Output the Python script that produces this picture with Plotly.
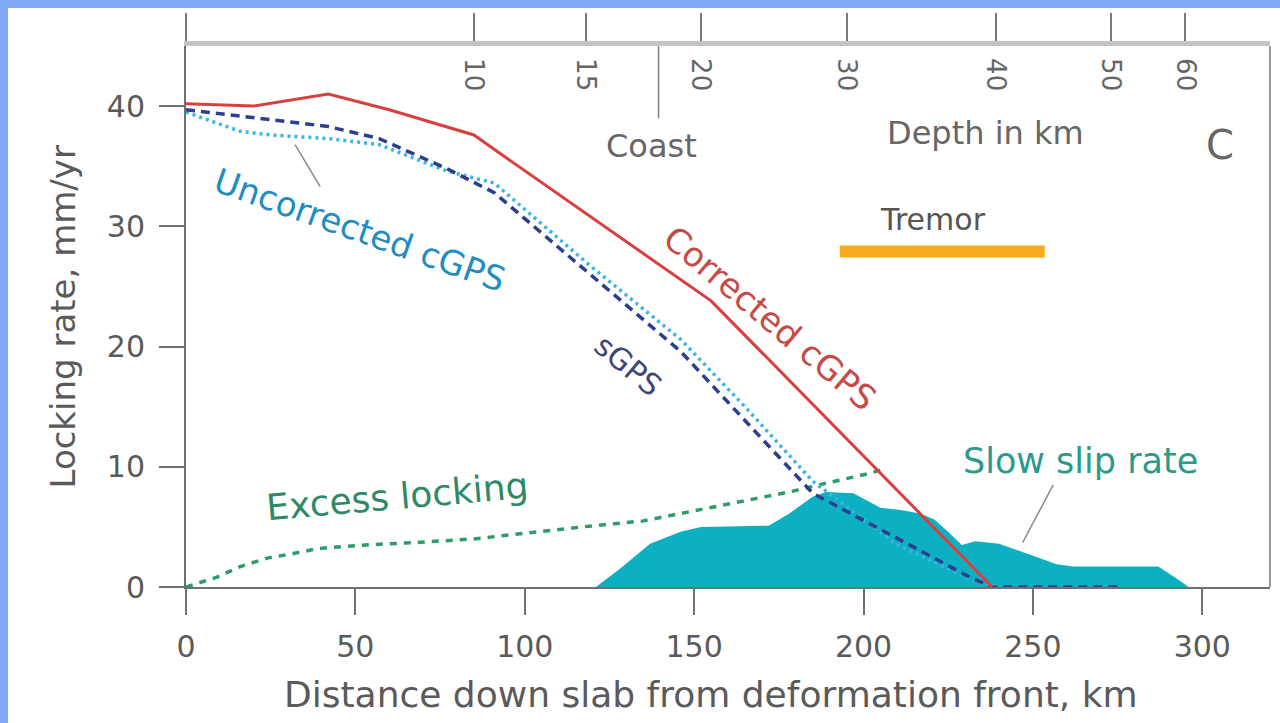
import plotly.graph_objects as go

# ---------------- data ----------------
x_ticks = [0, 50, 100, 150, 200, 250, 300]
y_ticks = [0, 10, 20, 30, 40]

# top axis: depth (km) placed at distance down slab (km)
depth_tick_km = [0, 85, 118, 152, 195, 239, 273, 295]
depth_tick_labels = ["", "10", "15", "20", "30", "40", "50", "60"]

corrected_x = [0, 20, 42, 60, 85, 92, 155, 238]
corrected_y = [40.2, 40.0, 41.0, 39.7, 37.6, 36.2, 23.8, 0.0]

sgps_x = [0, 25, 42, 57, 77, 91, 146, 185, 231.5, 238, 276]
sgps_y = [39.7, 38.9, 38.3, 37.3, 34.8, 32.8, 19.6, 7.8, 0.8, 0.0, 0.0]

uncorr_x = [0, 16, 25, 42, 57, 77, 91, 119, 146, 165, 185, 210, 232, 240]
uncorr_y = [39.5, 37.9, 37.6, 37.3, 36.8, 34.6, 33.6, 26.8, 20.6, 15.0, 8.8, 3.5, 0.6, 0.0]

excess_x = [0, 9, 16, 24, 32, 39, 53, 68, 85, 100, 117, 135, 146, 166, 178, 190, 201, 206]
excess_y = [0.0, 0.8, 1.7, 2.4, 2.8, 3.2, 3.5, 3.7, 4.0, 4.5, 5.0, 5.5, 6.1, 7.2, 7.9, 8.7, 9.4, 9.8]

slow_x = [121, 128, 137, 146, 152, 172, 178, 185, 189, 197, 205, 211, 217, 221, 225, 229,
          233, 240, 248, 257, 262, 287, 292, 296]
slow_y = [0.0, 1.5, 3.6, 4.6, 5.0, 5.1, 6.1, 7.5, 7.9, 7.8, 6.6, 6.4, 6.1, 5.6, 4.6, 3.5,
          3.8, 3.6, 2.8, 1.9, 1.7, 1.7, 0.8, 0.0]

tremor_x = [193, 253.5]
tremor_y = [27.9, 27.9]

coast_km = 139.5
coast_y = [45, 39]

uncorr_leader_x = [32.2, 39.6]
uncorr_leader_y = [36.8, 33.3]
slow_leader_x = [256, 247]
slow_leader_y = [8.5, 3.7]

FONT = "DejaVu Sans"

fig = go.Figure()

fig.add_trace(go.Scatter(x=slow_x, y=slow_y, mode="lines", fill="tozeroy",
                         line=dict(width=0, color="#12b4c3"), fillcolor="#0cb0c0",
                         hoverinfo="skip"))
fig.add_trace(go.Scatter(x=excess_x, y=excess_y, mode="lines",
                         line=dict(color="#2f9a6a", width=3.5, dash="7px,7px")))
fig.add_trace(go.Scatter(x=uncorr_x, y=uncorr_y, mode="lines",
                         line=dict(color="#3ab4e4", width=3.5, dash="3px,4px")))
fig.add_trace(go.Scatter(x=sgps_x, y=sgps_y, mode="lines",
                         line=dict(color="#2c3f8e", width=3.5, dash="9px,6px")))
fig.add_trace(go.Scatter(x=corrected_x, y=corrected_y, mode="lines",
                         line=dict(color="#d8403f", width=3)))
fig.add_trace(go.Scatter(x=tremor_x, y=tremor_y, mode="lines",
                         line=dict(color="#f6aa1c", width=12)))
fig.add_trace(go.Scatter(x=[coast_km, coast_km], y=coast_y, mode="lines",
                         line=dict(color="#808080", width=1.5)))
fig.add_trace(go.Scatter(x=uncorr_leader_x, y=uncorr_leader_y, mode="lines",
                         line=dict(color="#8a8a8a", width=1.5)))
fig.add_trace(go.Scatter(x=slow_leader_x, y=slow_leader_y, mode="lines",
                         line=dict(color="#8a8a8a", width=1.5)))
# anchor trace for the top (depth) axis
fig.add_trace(go.Scatter(x=[0], y=[0], xaxis="x2", mode="markers",
                         marker=dict(opacity=0), hoverinfo="skip"))

axis_col = "#707070"
tick_font = dict(family=FONT, size=30, color="#5a5a5a")

fig.update_layout(
    width=1272, height=715,
    margin=dict(l=178, r=10, t=36, b=136),
    paper_bgcolor="white", plot_bgcolor="white",
    showlegend=False,
    font=dict(family=FONT, color="#5a5a5a"),
    xaxis=dict(range=[0, 320], tickvals=x_ticks, ticks="outside", ticklen=26, tickwidth=2,
               tickcolor=axis_col, showline=True, linecolor=axis_col, linewidth=2,
               showgrid=False, zeroline=False, tickfont=tick_font, ticklabelstandoff=6),
    xaxis2=dict(range=[0, 320], overlaying="x", side="top", tickvals=depth_tick_km,
                ticktext=depth_tick_labels, ticks="outside", ticklen=28, tickwidth=1.5,
                tickcolor="#7a7a7a", showline=True, linecolor="#c4c4c4", linewidth=5,
                showgrid=False, zeroline=False, tickangle=90, ticklabelposition="inside",
                tickfont=dict(family=FONT, size=26, color="#666666")),
    yaxis=dict(range=[0, 45], tickvals=y_ticks, ticks="outside", ticklen=25, tickwidth=2,
               tickcolor=axis_col, showline=True, linecolor=axis_col, linewidth=2,
               showgrid=False, zeroline=False, tickfont=tick_font, ticklabelstandoff=8),
)

# right frame
fig.add_shape(type="line", xref="paper", yref="paper", x0=1, x1=1, y0=0, y1=1,
              line=dict(color="#9a9a9a", width=2))

def ann(text, x, y, size, color, angle=0, xref="x", yref="y"):
    fig.add_annotation(text=text, x=x, y=y, xref=xref, yref=yref, showarrow=False,
                       textangle=angle, xanchor="center", yanchor="middle",
                       font=dict(family=FONT, size=size, color=color))

ann("Uncorrected cGPS", 51.4, 29.7, 34, "#1f8dbf", 19.5)
ann("sGPS", 130.5, 18.4, 30, "#3d4677", 40)
ann("Corrected cGPS", 172.4, 22.4, 34, "#c54b47", 40)
ann("Excess locking", 62.3, 7.5, 36, "#2e8a66", -5)
ann("Slow slip rate", 264, 10.5, 35, "#2a9a8a")
ann("Tremor", 220.5, 30.6, 30, "#555555")
ann("Coast", 137.3, 36.7, 32, "#666666")
ann("Depth in km", 235.9, 37.8, 32, "#666666")
ann("C", 305.3, 36.8, 40, "#666666")
ann("Locking rate, mm/yr", -0.1135, 0.5, 34, "#5a5a5a", -90, "paper", "paper")
ann("Distance down slab from deformation front, km", 0.4843, -0.199, 36, "#5a5a5a", 0,
    "paper", "paper")

fig.write_html(
    "out.html",
    post_script=("document.body.style.background='#7eaaf8';"
                 "document.body.style.margin='8px 0 0 8px';"
                 "document.documentElement.style.overflow='hidden';"),
)
